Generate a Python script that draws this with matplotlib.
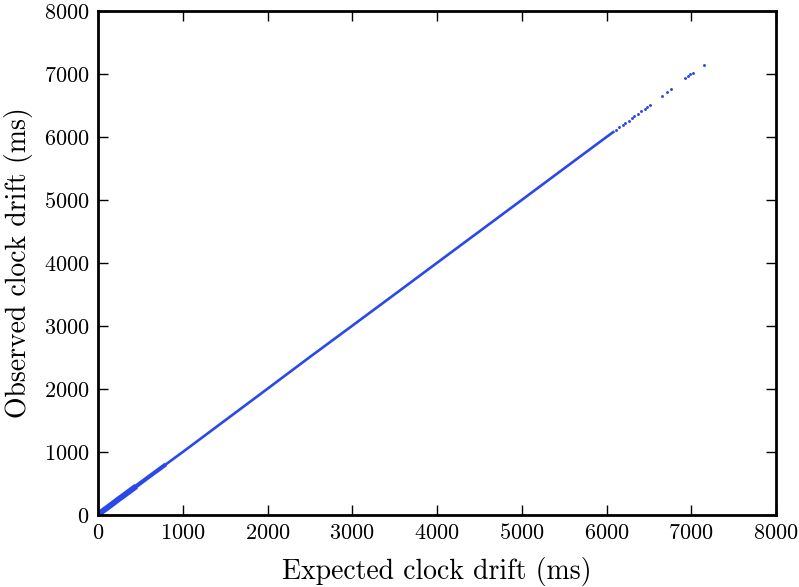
import matplotlib
matplotlib.use("Agg")
import matplotlib.pyplot as plt

plt.rcParams['font.family'] = ['cmr10', 'DejaVu Serif']
plt.rcParams['mathtext.fontset'] = 'cm'
plt.rcParams['axes.formatter.use_mathtext'] = True

# dense part of the cloud (reads as a solid line)
expected_dense = [0, 40, 80, 120, 160, 200, 260, 320, 400, 500, 650, 800, 1000,
                  1500, 2000, 2500, 3000, 3500, 4000, 4500, 5000, 5500, 6000, 6080]
observed_dense = [0, 45, 90, 128, 170, 212, 270, 330, 410, 505, 655, 803, 1000,
                  1502, 2004, 2508, 3004, 3502, 4002, 4501, 5000, 5501, 6000, 6078]

# low range where the points spread out a little
expected_low = [0, 30, 60, 100, 150, 200, 250, 300, 350, 400, 450]
observed_low = [0, 35, 68, 106, 156, 207, 258, 306, 356, 405, 455]
expected_mid = [400, 500, 600, 700, 800]
observed_mid = [405, 506, 606, 704, 803]

# sparse tail
expected_tail = [6110, 6150, 6190, 6220, 6260, 6300, 6330, 6370, 6410, 6450, 6480,
                 6510, 6650, 6710, 6760, 6930, 6960, 6990, 7020, 7150]
observed_tail = [6108, 6152, 6188, 6223, 6258, 6302, 6330, 6372, 6408, 6452, 6478,
                 6512, 6652, 6712, 6764, 6932, 6962, 6994, 7022, 7150]

blue = '#2b48e8'

fig = plt.figure(figsize=(7.99, 5.87), dpi=100)
ax = fig.add_axes([0.1227, 0.1227, 0.9712 - 0.1227, 0.9813 - 0.1227])

ax.plot(expected_low, observed_low, color=blue, lw=4.2, solid_capstyle='butt')
ax.plot(expected_mid, observed_mid, color=blue, lw=3.0, solid_capstyle='butt')
ax.plot(expected_dense, observed_dense, color=blue, lw=1.9)
ax.plot(expected_tail, observed_tail, ls='none', marker='o', ms=1.1,
        mfc=blue, mec=blue)

ax.set_xlim(0, 8000)
ax.set_ylim(0, 8000)
ax.set_xticks(range(0, 8001, 1000))
ax.set_yticks(range(0, 8001, 1000))
ax.tick_params(direction='in', length=7, width=1, top=True, right=True,
               labelsize=16, pad=6)
for s in ax.spines.values():
    s.set_linewidth(2)

ax.set_xlabel('Expected clock drift (ms)', fontsize=20, labelpad=10)
ax.set_ylabel('Observed clock drift (ms)', fontsize=20, labelpad=8)

fig.savefig('out.png', dpi=100)
